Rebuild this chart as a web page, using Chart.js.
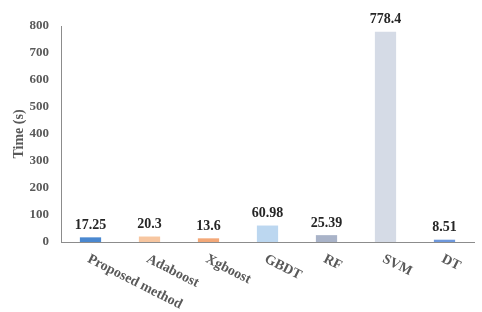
<!DOCTYPE html>
<html>
<head>
<meta charset="utf-8">
<script src="https://cdn.jsdelivr.net/npm/chart.js@4"></script>
<style>
  html, body { margin: 0; padding: 0; background: #fff; }
  #wrap { width: 482px; height: 312px; }
</style>
</head>
<body>
<div id="wrap"><canvas id="chart" width="482" height="312"></canvas></div>
<script>
const methods = ['Proposed method', 'Adaboost', 'Xgboost', 'GBDT', 'RF', 'SVM', 'DT'];
const times = [17.25, 20.3, 13.6, 60.98, 25.39, 778.4, 8.51];
const timeLabels = ['17.25', '20.3', '13.6', '60.98', '25.39', '778.4', '8.51'];
const barColors = ['#4a88d0', '#f7c6a0', '#f3a878', '#bcd7f0', '#a9b3c8', '#d5dbe6', '#6e98dc'];

const serif = '"Liberation Serif", "Times New Roman", serif';

// values above the bars
const valueLabels = {
  id: 'valueLabels',
  afterDatasetsDraw(chart) {
    const ctx = chart.ctx;
    const meta = chart.getDatasetMeta(0);
    ctx.save();
    ctx.font = 'bold 14px ' + serif;
    ctx.fillStyle = '#262626';
    ctx.textAlign = 'center';
    ctx.textBaseline = 'bottom';
    meta.data.forEach((bar, i) => {
      ctx.fillText(timeLabels[i], bar.x, bar.y - 5);
    });
    ctx.restore();
  }
};

// slanted category labels, going down to the right from each tick
const slantLabels = {
  id: 'slantLabels',
  afterDraw(chart) {
    const ctx = chart.ctx;
    const xs = chart.scales.x;
    ctx.save();
    ctx.font = 'bold 14px ' + serif;
    ctx.fillStyle = '#595959';
    ctx.textAlign = 'left';
    ctx.textBaseline = 'top';
    methods.forEach((m, i) => {
      ctx.save();
      ctx.translate(xs.getPixelForTick(i) + 1, xs.top + 10);
      ctx.rotate(27 * Math.PI / 180);
      ctx.fillText(m, 0, 0);
      ctx.restore();
    });
    ctx.restore();
  }
};

new Chart(document.getElementById('chart'), {
  type: 'bar',
  data: {
    labels: methods,
    datasets: [{
      data: times,
      backgroundColor: barColors,
      barPercentage: 0.36,
      categoryPercentage: 1
    }]
  },
  options: {
    responsive: false,
    animation: false,
    layout: { padding: { top: 26, right: 8, left: 0, bottom: 0 } },
    plugins: {
      legend: { display: false },
      tooltip: { enabled: false }
    },
    scales: {
      x: {
        grid: { display: false },
        border: { display: true, color: '#8c8c8c', width: 1 },
        ticks: { display: false },
        afterFit(scale) { scale.height = 70; }
      },
      y: {
        min: 0,
        max: 800,
        grid: { display: false },
        border: { display: true, color: '#8c8c8c', width: 1 },
        ticks: {
          stepSize: 100,
          color: '#595959',
          padding: 4,
          font: { family: serif, size: 13, weight: 'bold' }
        },
        title: {
          display: true,
          text: 'Time (s)',
          color: '#595959',
          padding: { top: 11, bottom: 0 },
          font: { family: serif, size: 14, weight: 'bold' }
        },
        afterFit(scale) { scale.width = 61; }
      }
    }
  },
  plugins: [valueLabels, slantLabels]
});
</script>
</body>
</html>
